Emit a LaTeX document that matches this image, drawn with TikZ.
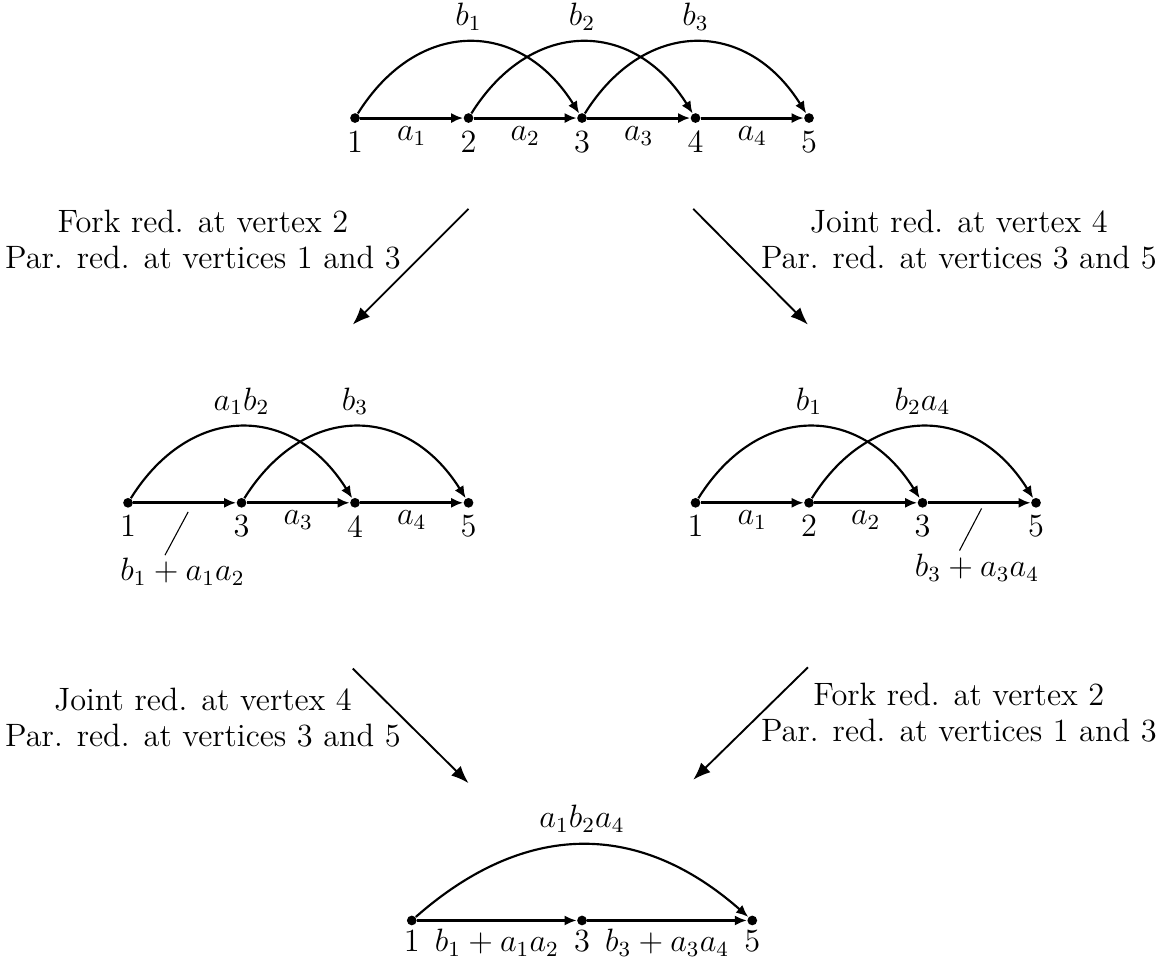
\documentclass[12pt,tikz,border=0pt]{standalone}
\usetikzlibrary{arrows.meta}
\tikzset{
  vtx/.style={circle,fill,inner sep=0pt,minimum size=3.6pt},
  aedge/.style={line width=1.1pt,-{Latex[length=4.5pt,width=3.8pt]}},
  barc/.style={thick,-{Latex[length=4.5pt,width=3.8pt]}},
  elab/.style={below,inner sep=2.5pt},
  redarrow/.style={line width=0.7pt,-{Latex[length=6.5pt,width=5pt]}},
  slash/.style={line width=0.4pt},
  redtext/.style={align=center,font=\fontsize{12}{13.3}\selectfont}
}
\begin{document}
\begin{tikzpicture}[x=1.48cm,y=1.48cm,label distance=-1.5pt]
\useasboundingbox (-3.128,1.04) rectangle (7.11,-7.41);
% top graph
\foreach \v in {1,...,5}
 \node[vtx,label=below:\v] (t\v) at (\v-1,0) {};
\foreach \u/\v in {1/2,2/3,3/4,4/5}
 \draw[aedge] (t\u) -- node[elab] {$a_\u$} (t\v);
\foreach \u/\v in {1/3,2/4,3/5}
 \draw[barc] (t\u) .. controls +(0.55,0.88) and +(-0.55,0.88) .. node[above] {$b_\u$} (t\v);

% first reductions
\coordinate (p1s) at (1.0,-0.80);
\coordinate (p1e) at (-0.02,-1.82);
\coordinate (q1s) at (2.98,-0.80);
\coordinate (q1e) at (3.99,-1.82);
\draw[redarrow] (p1s) -- (p1e);
\draw[redarrow] (q1s) -- (q1e);
\node[redtext] (fork1) at (-1.34,-1.07) {Fork red. at vertex 2\\Par. red. at vertices 1 and 3};
\node[redtext] (joint1) at (5.32,-1.07) {Joint red. at vertex 4\\Par. red. at vertices 3 and 5};

% left graph
\node[vtx,label=below:1] (l1) at (-2,-3.39) {};
\node[vtx,label=below:3] (l3) at (-1,-3.39) {};
\node[vtx,label=below:4] (l4) at (0,-3.39) {};
\node[vtx,label=below:5] (l5) at (1,-3.39) {};
\draw[aedge] (l1) -- (l3);
\draw[aedge] (l3) -- node[elab] {$a_3$} (l4);
\draw[aedge] (l4) -- node[elab] {$a_4$} (l5);
\draw[barc] (l1) .. controls +(0.55,0.88) and +(-0.55,0.88) .. node[above] {$a_1b_2$} (l4);
\draw[barc] (l3) .. controls +(0.55,0.88) and +(-0.55,0.88) .. node[above] {$b_3$} (l5);
\coordinate (ls) at (-1.47,-3.47);
\node[inner sep=1pt] (lsum) at (-1.52,-4.0) {$b_1+a_1a_2$};
\draw[slash] (ls) -- ([xshift=-6.5pt]lsum.north);

% right graph
\node[vtx,label=below:1] (r1) at (3,-3.39) {};
\node[vtx,label=below:2] (r2) at (4,-3.39) {};
\node[vtx,label=below:3] (r3) at (5,-3.39) {};
\node[vtx,label=below:5] (r5) at (6,-3.39) {};
\draw[aedge] (r1) -- node[elab] {$a_1$} (r2);
\draw[aedge] (r2) -- node[elab] {$a_2$} (r3);
\draw[aedge] (r3) -- (r5);
\draw[barc] (r1) .. controls +(0.55,0.88) and +(-0.55,0.88) .. node[above] {$b_1$} (r3);
\draw[barc] (r2) .. controls +(0.55,0.88) and +(-0.55,0.88) .. node[above] {$b_2a_4$} (r5);
\coordinate (rs) at (5.52,-3.44);
\node[inner sep=1pt] (rsum) at (5.48,-3.96) {$b_3+a_3a_4$};
\draw[slash] (rs) -- ([xshift=-6.5pt]rsum.north);

% second reductions
\coordinate (p2s) at (-0.02,-4.85);
\coordinate (p2e) at (1.0,-5.86);
\coordinate (q2s) at (3.99,-4.84);
\coordinate (q2e) at (2.98,-5.83);
\draw[redarrow] (p2s) -- (p2e);
\draw[redarrow] (q2s) -- (q2e);
\node[redtext] (joint2) at (-1.34,-5.28) {Joint red. at vertex 4\\Par. red. at vertices 3 and 5};
\node[redtext] (fork2) at (5.32,-5.24) {Fork red. at vertex 2\\Par. red. at vertices 1 and 3};

% bottom graph
\begin{scope}[label distance=-2.5pt]
\node[vtx,label=below:1] (b1) at (0.5,-7.07) {};
\node[vtx,label=below:3] (b3) at (2,-7.07) {};
\node[vtx,label=below:5] (b5) at (3.5,-7.07) {};
\end{scope}
\draw[aedge] (b1) -- node[elab] {$b_1+a_1a_2$} (b3);
\draw[aedge] (b3) -- node[elab] {$b_3+a_3a_4$} (b5);
\draw[barc] (b1) .. controls +(1,0.88) and +(-1,0.88) .. node[above] {$a_1b_2a_4$} (b5);
\end{tikzpicture}
\end{document}
